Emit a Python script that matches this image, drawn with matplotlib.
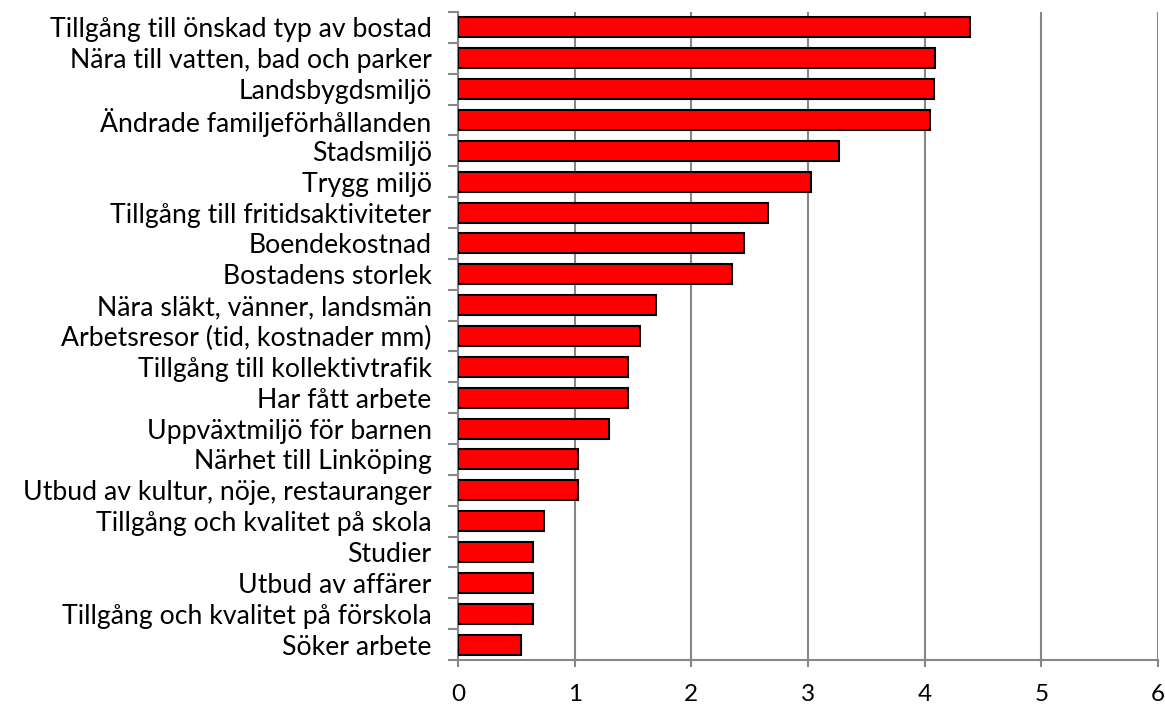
import matplotlib
matplotlib.use("Agg")
import matplotlib.pyplot as plt
import numpy as np

categories = [
    "Tillgång till önskad typ av bostad",
    "Nära till vatten, bad och parker",
    "Landsbygdsmiljö",
    "Ändrade familjeförhållanden",
    "Stadsmiljö",
    "Trygg miljö",
    "Tillgång till fritidsaktiviteter",
    "Boendekostnad",
    "Bostadens storlek",
    "Nära släkt, vänner, landsmän",
    "Arbetsresor (tid, kostnader mm)",
    "Tillgång till kollektivtrafik",
    "Har fått arbete",
    "Uppväxtmiljö för barnen",
    "Närhet till Linköping",
    "Utbud av kultur, nöje, restauranger",
    "Tillgång och kvalitet på skola",
    "Studier",
    "Utbud av affärer",
    "Tillgång och kvalitet på förskola",
    "Söker arbete",
]
values = [4.39, 4.09, 4.08, 4.05, 3.27, 3.03, 2.66, 2.45, 2.35, 1.70, 1.56,
          1.46, 1.46, 1.29, 1.03, 1.03, 0.74, 0.64, 0.64, 0.64, 0.54]
xticks = [0, 1, 2, 3, 4, 5, 6]

plt.rcParams['font.family'] = ['Lato', 'DejaVu Sans']

fig = plt.figure(figsize=(11.65, 7.06), dpi=100)
ax = fig.add_axes([458/1165, 1 - 660/706, 700/1165, 648/706])

n = len(categories)
y = np.arange(n)
ax.barh(y, values, height=0.65, color='#FF0000', edgecolor='black', linewidth=1.5, zorder=3)
ax.set_ylim(n - 0.5, -0.5)
ax.set_xlim(0, 6)
ax.set_xticks(xticks)
ax.set_xticklabels([str(t) for t in xticks], fontsize=17.5)

ax.set_yticks(y)
ax.set_yticklabels(categories, fontsize=19.2)
ax.set_yticks(np.arange(-0.5, n, 1), minor=True)
ax.tick_params(axis='y', which='major', length=0, pad=19)
ax.tick_params(axis='y', which='minor', length=7, width=1.5, color='#878787')
ax.tick_params(axis='x', length=5, width=1.5, color='#878787', pad=12)

ax.grid(axis='x', color='#878787', linewidth=1.5, zorder=0)
for s in ['top', 'right']:
    ax.spines[s].set_visible(False)
for s in ['left', 'bottom']:
    ax.spines[s].set_color('#878787')
    ax.spines[s].set_linewidth(1.5)

fig.savefig('out.png', dpi=100)
